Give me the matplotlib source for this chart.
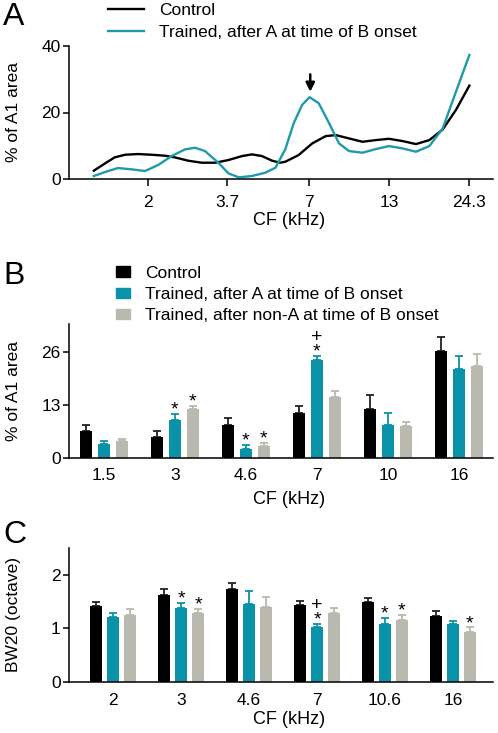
import numpy as np
import matplotlib
matplotlib.use("Agg")
import matplotlib.pyplot as plt
from matplotlib.patches import Patch

plt.rcParams['font.family'] = ['Liberation Sans', 'DejaVu Sans']
plt.rcParams['font.size'] = 12.5

TEAL = '#0a93a8'
TEAL_LINE = '#1f9aab'
GREY = '#b9b9af'
BLACK = '#000000'

# ---- panel A: distribution of CF over A1 area ----
a_ticks = [2, 3.7, 7, 13, 24.3]
a_ctrl_cf = [1.31, 1.43, 1.54, 1.67, 1.85, 2.05, 2.28, 2.46, 2.73, 3.03, 3.37, 3.73,
             4.15, 4.48, 4.84, 5.24, 5.59, 5.81, 6.44, 7.16, 7.95, 8.60, 9.53, 10.58,
             11.74, 13.0, 14.46, 16.04, 17.8, 19.75, 21.9, 24.3]
a_ctrl_val = [2.5, 4.7, 6.5, 7.3, 7.5, 7.3, 7.0, 6.5, 5.5, 4.9, 4.9, 5.7,
              6.9, 7.4, 6.9, 5.5, 4.9, 5.2, 7.2, 10.7, 12.9, 13.2, 12.2, 11.2,
              11.7, 12.1, 11.4, 10.5, 11.7, 14.9, 20.8, 28.1]
a_train_cf = [1.31, 1.43, 1.58, 1.76, 1.95, 2.16, 2.40, 2.66, 2.88, 3.11, 3.45, 3.73,
              4.04, 4.48, 4.97, 5.38, 5.81, 6.20, 6.62, 7.01, 7.53, 8.16, 8.82, 9.53,
              10.58, 11.74, 13.0, 14.46, 16.04, 17.8, 19.75, 21.9, 24.3]
a_train_val = [0.9, 2.1, 3.3, 2.9, 2.4, 4.2, 6.9, 8.9, 9.4, 8.4, 4.9, 1.7,
               0.5, 0.9, 1.9, 3.4, 9.0, 16.8, 22.3, 24.6, 22.8, 16.8, 10.7, 8.4,
               7.9, 9.0, 9.9, 9.2, 8.2, 9.9, 15.2, 26.3, 37.3]

# ---- panel B: % of A1 area per CF bin ----
b_labels = ['1.5', '3', '4.6', '7', '10', '16']
b_ctrl = [6.6, 5.25, 8.0, 10.9, 12.1, 26.1]
b_ctrl_err = [1.6, 1.35, 1.8, 1.8, 3.2, 3.4]
b_trainA = [3.5, 9.2, 2.2, 24.0, 8.0, 21.8]
b_trainA_err = [0.7, 1.6, 1.1, 1.0, 2.9, 3.1]
b_trainN = [4.1, 12.0, 2.9, 15.0, 7.9, 22.6]
b_trainN_err = [0.6, 0.7, 0.8, 1.3, 1.0, 2.8]
# significance marks: (group, series, text)
b_marks = [(1, 1, '*'), (1, 2, '*'), (2, 1, '*'), (2, 2, '*'), (3, 1, '+\n*')]

# ---- panel C: bandwidth 20 dB above threshold ----
c_labels = ['2', '3', '4.6', '7', '10.6', '16']
c_ctrl = [1.41, 1.63, 1.74, 1.44, 1.49, 1.24]
c_ctrl_err = [0.08, 0.10, 0.10, 0.07, 0.07, 0.08]
c_trainA = [1.21, 1.38, 1.46, 1.03, 1.09, 1.08]
c_trainA_err = [0.08, 0.10, 0.23, 0.05, 0.10, 0.06]
c_trainN = [1.25, 1.29, 1.40, 1.28, 1.16, 0.94]
c_trainN_err = [0.11, 0.07, 0.19, 0.10, 0.09, 0.08]
c_marks = [(1, 1, '*'), (1, 2, '*'), (3, 1, '+\n*'), (4, 1, '*'), (4, 2, '*'), (5, 2, '*')]

W, H = 498, 733
fig = plt.figure(figsize=(W / 100, H / 100), dpi=100)


def style_axes(ax):
    for s in ['top', 'right']:
        ax.spines[s].set_visible(False)
    ax.spines['left'].set_linewidth(1.1)
    ax.spines['bottom'].set_linewidth(1.1)
    ax.tick_params(direction='out', width=1.1, length=4, labelsize=12.5)
    ax.tick_params(axis='y', pad=2)


def px_axes(left, right, top, bottom):
    return fig.add_axes([left / W, 1 - bottom / H, (right - left) / W, (bottom - top) / H])


def labels(ax, xlabel, ylabel, height, xlab_gap):
    ax.set_xlabel(xlabel, fontsize=13)
    ax.set_ylabel(ylabel, fontsize=12.5)
    ax.yaxis.set_label_coords(-48 / 424, 0.5)
    ax.xaxis.set_label_coords(0.52, -xlab_gap / height)


# panel A
axA = px_axes(69, 493, 46, 179)
style_axes(axA)
axA.plot(a_ctrl_cf, a_ctrl_val, color=BLACK, lw=1.7, label='Control')
axA.plot(a_train_cf, a_train_val, color=TEAL_LINE, lw=1.7, label='Trained, after A at time of B onset')
axA.set_xscale('log')
axA.set_xlim(1.08, 29.2)
axA.set_ylim(0, 40)
axA.set_yticks([0, 20, 40])
axA.set_xticks(a_ticks)
axA.set_xticklabels([str(t) for t in a_ticks])
axA.xaxis.set_minor_locator(matplotlib.ticker.NullLocator())
axA.tick_params(axis='x', length=5, pad=6.5)
labels(axA, 'CF (kHz)', '% of A1 area', 133, 33)
axA.annotate('', xy=(7.05, 25.4), xytext=(7.05, 32.3),
             arrowprops=dict(arrowstyle='-|>', color='black', lw=1.8, mutation_scale=13))
axA.legend(loc='upper left', bbox_to_anchor=(106 / W, 1 - 1 / H), bbox_transform=fig.transFigure,
           frameon=False, handlelength=2.1, handletextpad=0.85, labelspacing=0.42,
           borderaxespad=0, borderpad=0.1, fontsize=12.5)


def bar_panel(ax, ctrl, ctrl_err, trA, trA_err, trN, trN_err, labels_, marks, ylim, yticks, xlim):
    x = np.arange(len(labels_))
    off = 0.25
    w = 0.17
    series = [(ctrl, ctrl_err, BLACK, '#222222'), (trA, trA_err, TEAL, TEAL), (trN, trN_err, GREY, GREY)]
    tops = []
    for k, (vals, errs, col, ecol) in enumerate(series):
        pos = x + (k - 1) * off
        ax.bar(pos, vals, width=w, color=col, edgecolor='none', zorder=2)
        ax.errorbar(pos, vals, yerr=[np.zeros(len(vals)), errs], fmt='none', ecolor=ecol,
                    elinewidth=1.3, capsize=3, capthick=1.3, zorder=1)
        tops.append(np.array(vals) + np.array(errs))
    # star (and plus above it) just over the error bar
    for g, k, txt in marks:
        pos = x[g] + (k - 1) * off
        ax.annotate(txt, xy=(pos, tops[k][g]), xytext=(0, -3.4), textcoords='offset points',
                    ha='center', va='bottom', fontsize=14, linespacing=0.82,
                    multialignment='center')
    ax.set_xticks(x)
    ax.set_xticklabels(labels_)
    ax.tick_params(axis='x', length=0, pad=7)
    ax.set_xlim(*xlim)
    ax.set_ylim(*ylim)
    ax.set_yticks(yticks)


# panel B
axB = px_axes(69, 493, 324, 458)
style_axes(axB)
bar_panel(axB, b_ctrl, b_ctrl_err, b_trainA, b_trainA_err, b_trainN, b_trainN_err,
          b_labels, b_marks, (0, 32.8), [0, 13, 26], (-0.49, 5.48))
labels(axB, 'CF (kHz)', '% of A1 area', 134, 33)
handles = [Patch(color=BLACK, label='Control'),
           Patch(color=TEAL, label='Trained, after A at time of B onset'),
           Patch(color=GREY, label='Trained, after non-A at time of B onset')]
axB.legend(handles=handles, loc='upper left', bbox_to_anchor=(114 / W, 1 - 264 / H),
           bbox_transform=fig.transFigure, frameon=False, handlelength=0.85, handleheight=0.55,
           handletextpad=0.85, labelspacing=0.36, borderaxespad=0, borderpad=0.1, fontsize=12.5)

# panel C
axC = px_axes(69, 493, 548, 682)
style_axes(axC)
bar_panel(axC, c_ctrl, c_ctrl_err, c_trainA, c_trainA_err, c_trainN, c_trainN_err,
          c_labels, c_marks, (0, 2.5), [0, 1, 2], (-0.65, 5.59))
axC.tick_params(axis='x', pad=8)
labels(axC, 'CF (kHz)', 'BW20 (octave)', 134, 29)

for lab, y in [('A', 17), ('B', 276), ('C', 535)]:
    fig.text(3 / W, 1 - y / H, lab, fontsize=23, va='center', ha='left')

fig.savefig('out.png', dpi=100)
